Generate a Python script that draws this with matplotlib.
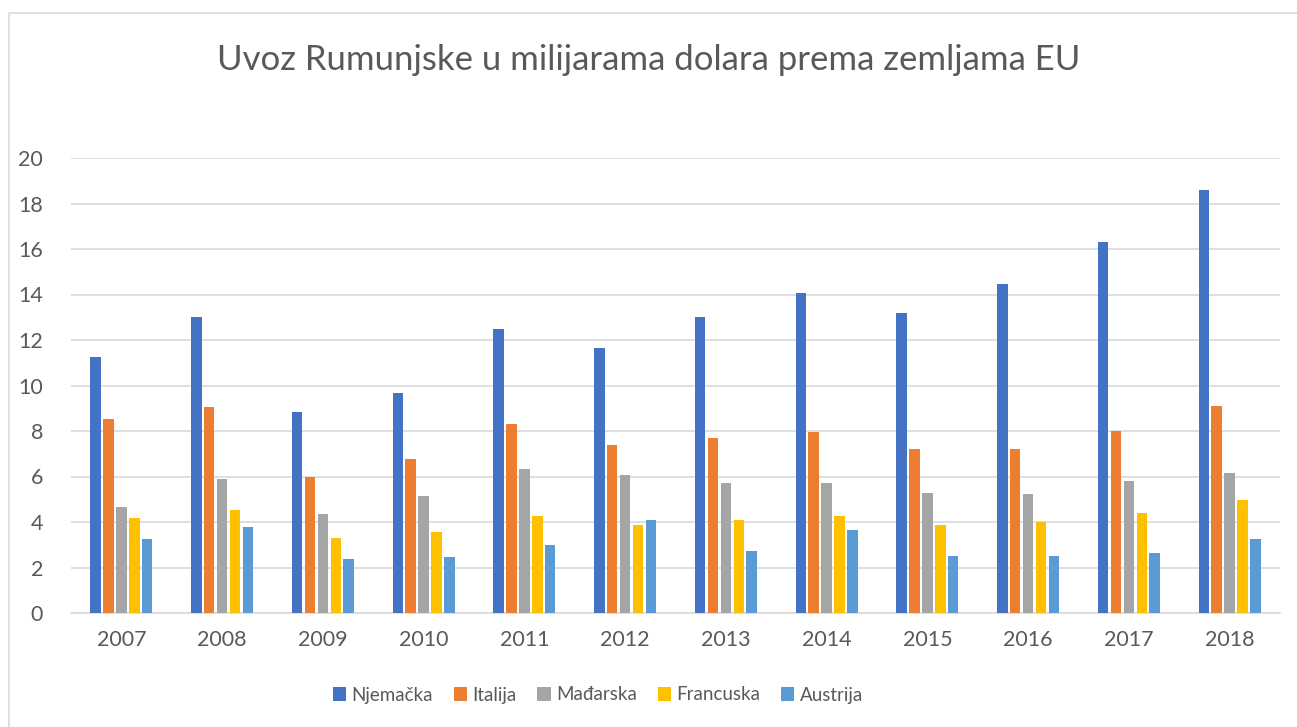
import matplotlib.pyplot as plt
import matplotlib.patches as mpatches
import numpy as np

plt.rcParams['font.family'] = ['Lato', 'DejaVu Sans']

years = ['2007', '2008', '2009', '2010', '2011', '2012',
         '2013', '2014', '2015', '2016', '2017', '2018']

njemacka = [11.27, 13.0, 8.85, 9.66, 12.48, 11.66, 13.0, 14.08, 13.17, 14.48, 16.29, 18.59]
italija = [8.51, 9.07, 5.98, 6.78, 8.32, 7.40, 7.69, 7.97, 7.22, 7.19, 8.01, 9.11]
madarska = [4.64, 5.88, 4.34, 5.13, 6.33, 6.05, 5.71, 5.73, 5.26, 5.23, 5.82, 6.15]
francuska = [4.18, 4.54, 3.31, 3.58, 4.26, 3.85, 4.10, 4.28, 3.85, 4.01, 4.41, 4.97]
austrija = [3.24, 3.78, 2.37, 2.48, 2.97, 4.10, 2.74, 3.63, 2.52, 2.52, 2.64, 3.27]

series = {
    'Njemačka': njemacka,
    'Italija': italija,
    'Mađarska': madarska,
    'Francuska': francuska,
    'Austrija': austrija,
}
colors = ['#4472C4', '#ED7D31', '#A5A5A5', '#FFC000', '#5B9BD5']
text_color = '#595959'

fig = plt.figure(figsize=(12.97, 7.27), dpi=100)
ax = fig.add_axes([71 / 1297, 1 - 613 / 727, (1280 - 71) / 1297, (613 - 158) / 727])

# chart border
fig.patches.append(mpatches.Rectangle((9 / 1297, -0.1), 1.2, 1 - 13 / 727 + 0.1,
                                      transform=fig.transFigure, fill=False,
                                      edgecolor='#D9D9D9', linewidth=1.2))

x = np.arange(len(years))
pitch = 0.128
width = 0.104
for i, (name, vals) in enumerate(series.items()):
    ax.bar(x + (i - 2) * pitch, vals, width, label=name, color=colors[i], zorder=3)

ax.set_ylim(0, 20)
ax.set_xlim(-0.5, len(years) - 0.5)
ax.set_yticks(np.arange(0, 21, 2))
ax.set_xticks(x)
ax.set_xticklabels(years)
ax.grid(axis='y', color='#D9D9D9', linewidth=1.2, zorder=0)
for s in ['top', 'left', 'right']:
    ax.spines[s].set_visible(False)
ax.spines['bottom'].set_color('#D9D9D9')
ax.spines['bottom'].set_linewidth(1.2)
ax.tick_params(axis='both', length=0, labelsize=15.5, colors=text_color)
ax.tick_params(axis='x', pad=12)
ax.tick_params(axis='y', pad=20)

fig.text(0.5, 1 - 60 / 727, 'Uvoz Rumunjske u milijarama dolara prema zemljama EU',
         ha='center', va='center', fontsize=25, color=text_color)

fig.legend(loc='center', bbox_to_anchor=(598 / 1297, 1 - 695 / 727), ncol=5,
           frameon=False, fontsize=13.5, labelcolor=text_color,
           handlelength=0.7, handleheight=0.7, handletextpad=0.3, columnspacing=1.1)

fig.savefig('out.png', dpi=100)
